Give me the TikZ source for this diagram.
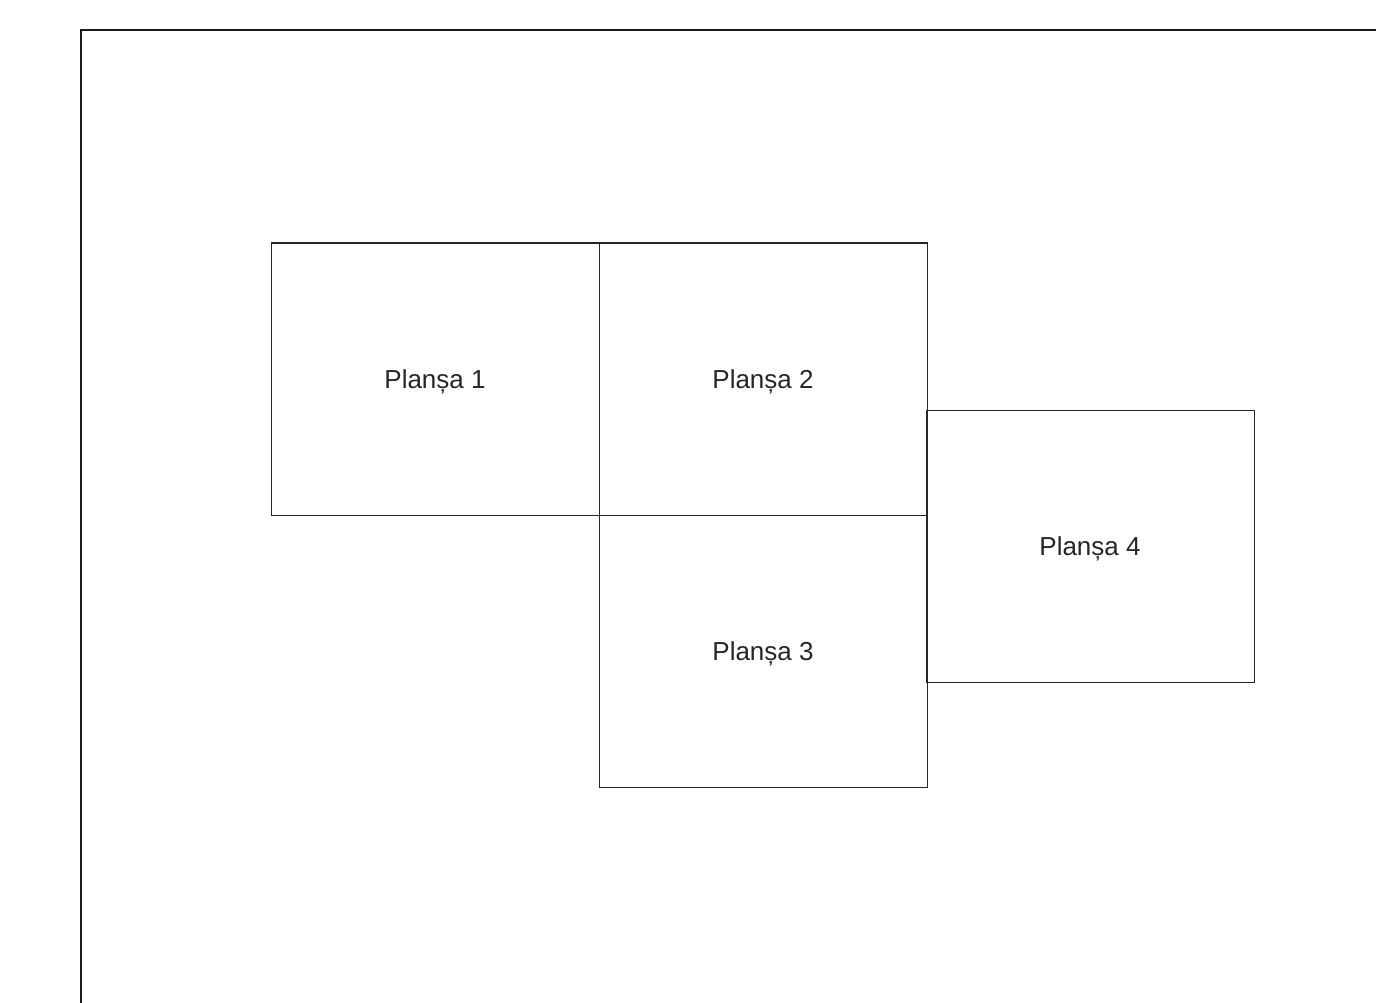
\documentclass[tikz,border=0pt]{standalone}
\usepackage{fontspec}
\setmainfont{Liberation Sans}
\usetikzlibrary{positioning}

\begin{document}
\begin{tikzpicture}[
      x=1pt, y=-1pt,
      sheet/.style={rectangle, draw=black!85, line width=1pt, fill=none,
          minimum width=328pt, minimum height=272pt, inner sep=0pt,
          outer sep=0pt, align=center, text=black!85, text depth=0pt,
          font=\fontsize{26}{30}\selectfont},
      frameline/.style={draw=black!90, line width=2.6pt},
    ]
    \useasboundingbox (0,0) rectangle (1376,1003);

    %% ── FRAME ───────────────────────────────────────────────────────────────
    \draw[frameline] (81,1004) |- (1377,30);

    %% ── SHEETS ──────────────────────────────────────────────────────────────
    \node[sheet] at (435, 379) (plansa1) {Planșa 1};
    \node[sheet, right=0pt of plansa1] (plansa2) {Planșa 2};
    \node[sheet, below=0pt of plansa2] (plansa3) {Planșa 3};
    \node[sheet] at (1090, 546) (plansa4) {Planșa 4};

  \end{tikzpicture}
\end{document}
